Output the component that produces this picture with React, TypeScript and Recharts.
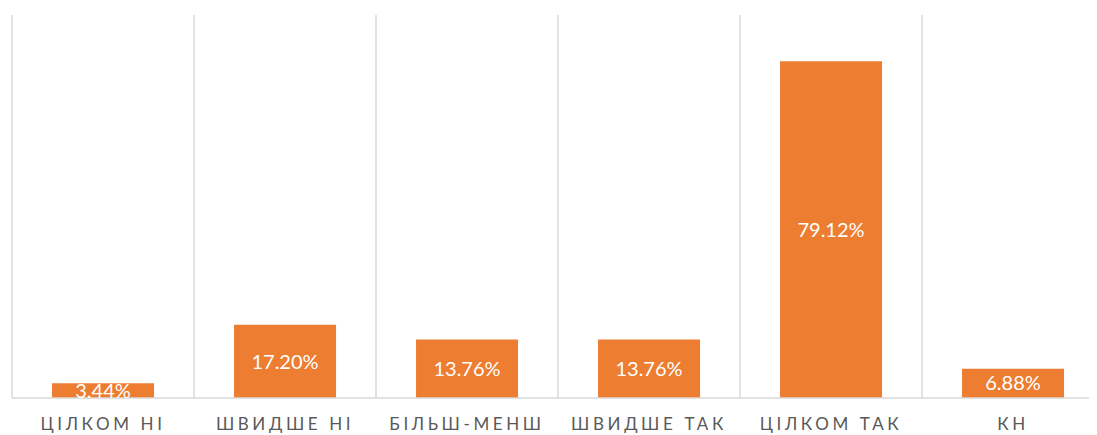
import React from "react";
import { Bar, BarChart, XAxis, YAxis, CartesianGrid, LabelList } from "recharts";

const categories = ["ЦІЛКОМ НІ", "ШВИДШЕ НІ", "БІЛЬШ-МЕНШ", "ШВИДШЕ ТАК", "ЦІЛКОМ ТАК", "КН"];
const shares = [3.44, 17.2, 13.76, 13.76, 79.12, 6.88];

const data = categories.map((name, i) => ({ name, value: shares[i] }));

const FONT = "Lato, 'Open Sans', sans-serif";

const CategoryTick = (props: any) => {
	const { x, y, payload } = props;
	return (
		<text
			x={x}
			y={y + 17}
			textAnchor="middle"
			dominantBaseline="central"
			fill="#595959"
			fontSize={17}
			fontFamily={FONT}
			letterSpacing={3.6}
		>
			{payload.value}
		</text>
	);
};

export default function App() {
	return (
		<div style={{ width: 1089, height: 427, overflow: "hidden" }}>
			<BarChart
				width={1100}
				height={427}
				data={data}
				margin={{ top: 7, right: 4, bottom: 7, left: 4 }}
				barCategoryGap="22%"
			>
				<CartesianGrid
					horizontal={false}
					stroke="#d9d9d9"
					strokeWidth={1.5}
					verticalCoordinatesGenerator={({ offset }: any) =>
						categories.map((_, i) => offset.left + (i * offset.width) / categories.length)
					}
				/>
				<XAxis
					dataKey="name"
					height={30}
					axisLine={{ stroke: "#d9d9d9", strokeWidth: 1.5 }}
					tickLine={false}
					interval={0}
					tick={CategoryTick}
				/>
				<YAxis hide domain={[0, 90]} />
				<Bar dataKey="value" fill="#ED7D31" isAnimationActive={false}>
					<LabelList
						dataKey="value"
						position="center"
						fill="#ffffff"
						fontSize={20}
						fontFamily={FONT}
						formatter={(v: any) => `${Number(v).toFixed(2)}%`}
					/>
				</Bar>
			</BarChart>
		</div>
	);
}
